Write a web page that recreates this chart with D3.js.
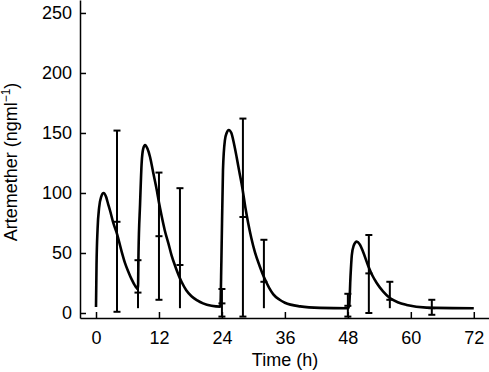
<!DOCTYPE html>
<html>
<head>
<meta charset="utf-8">
<script src="https://cdn.jsdelivr.net/npm/d3@7/dist/d3.min.js"></script>
<style>
  html, body { margin: 0; padding: 0; background: #fff; }
  svg { display: block; font-family: "Liberation Sans", Arial, sans-serif; }
</style>
</head>
<body>
<div id="chart"></div>
<script>
// fitted concentration curve (h, ng/ml)
var curveTime = [0, 0.1, 0.3, 0.6, 1.0, 1.45, 1.9, 2.3, 2.7, 3.3, 4.0, 4.9, 5.5, 6.2, 6.8, 7.4, 8.0,
    8.1, 8.4, 8.7, 9.0, 9.35, 9.8, 10.3, 10.9, 11.6, 12.0, 12.5, 13.1, 13.8, 14.4, 15.1, 16.3, 17.2, 18.2, 19.3, 20.4, 22.0, 23.7,
    23.9, 24.2, 24.57, 24.9, 25.3, 25.8, 26.3, 26.8, 27.3, 27.9, 28.5, 29.0, 29.6, 30.3, 31.2, 32.0, 33.0, 33.8, 35.0, 36.0, 38.9, 42.7, 48.0,
    48.25, 48.5, 48.75, 49.1, 49.7, 50.3, 50.9, 51.9, 52.7, 53.5, 54.7, 56.0, 57.5, 59.2, 63.0, 72.0];
var curveConc = [5, 40, 70, 88, 97, 100, 97, 91, 85, 75, 66, 51, 42, 34, 28, 23, 20,
    50, 91, 125, 137, 140, 137, 130, 117, 102, 92, 81, 69, 58, 48, 39, 26, 19, 14, 10.5, 8, 6, 5.3,
    44, 119, 144, 150, 152.5, 150, 141, 130, 118, 104, 87, 75, 62.5, 50.5, 39, 30, 21, 15.5, 11, 8.5, 5.5, 4.3, 4,
    6, 30, 48, 56, 59.5, 57, 51, 39, 31, 25, 18, 12.5, 9, 6.7, 4.5, 4];

// observed samples: mean with range bars
var sampleTime  = [4, 8, 12, 16, 24, 28, 32, 48, 52, 56, 64];
var sampleMean  = [76, 17, 64, 40, 8, 80, 26, 6, 33, 11, 4];
var sampleHigh  = [152, 44, 117, 104, 20, 162, 61, 16, 65, 26, 11];
var sampleLow   = [1, 4, 11, 4, -3, -3, 4, -3, 0, 4, -1.5];
var lowCapShown = [true, false, true, false, true, true, false, true, true, false, true];

var xTicks = [0, 12, 24, 36, 48, 60, 72];
var yTicks = [0, 50, 100, 150, 200, 250];

var width = 489, height = 372;

var svg = d3.select("#chart").append("svg")
    .attr("width", width).attr("height", height)
    .style("background-color", "#fff");

var x = d3.scaleLinear().domain([-3.05, 74.9]).range([80, 489]);
var y = d3.scaleLinear().domain([-4.17, 260.8]).range([318, 0]);

// axes, ticks point inward
var xAxis = svg.append("g")
    .attr("transform", "translate(0,318)")
    .call(d3.axisBottom(x).tickValues(xTicks).tickSize(-6).tickSizeOuter(0).tickPadding(13));
var yAxis = svg.append("g")
    .attr("transform", "translate(80,0)")
    .call(d3.axisLeft(y).tickValues(yTicks).tickSize(-6).tickSizeOuter(0).tickPadding(8));

[xAxis, yAxis].forEach(function(a) {
    a.selectAll("path, line").attr("stroke", "#000").attr("stroke-width", 1.5);
    a.selectAll("text").attr("fill", "#000").style("font-size", "18px")
        .style("font-family", "'Liberation Sans', Arial, sans-serif");
});

// range bars
var bars = svg.append("g").attr("stroke", "#000").attr("stroke-width", 2);
sampleTime.forEach(function(t, i) {
    var cx = x(t);
    bars.append("line")
        .attr("x1", cx).attr("x2", cx)
        .attr("y1", y(sampleHigh[i])).attr("y2", y(sampleLow[i]));
    var caps = [sampleHigh[i], sampleMean[i]];
    if (lowCapShown[i]) caps.push(sampleLow[i]);
    caps.forEach(function(v) {
        bars.append("line")
            .attr("x1", cx - 3.5).attr("x2", cx + 3.5)
            .attr("y1", y(v)).attr("y2", y(v));
    });
});

// fitted curve
var pts = curveTime.map(function(t, i) { return [t, curveConc[i]]; });
svg.append("path")
    .datum(pts)
    .attr("fill", "none")
    .attr("stroke", "#000")
    .attr("stroke-width", 2.6)
    .attr("stroke-linejoin", "round")
    .attr("d", d3.line()
        .x(function(d) { return x(d[0]); })
        .y(function(d) { return y(d[1]); })
        .curve(d3.curveMonotoneX));

// axis titles
svg.append("text")
    .attr("x", 285).attr("y", 366)
    .attr("text-anchor", "middle")
    .style("font-size", "18px")
    .text("Time (h)");

var yTitle = svg.append("text")
    .attr("transform", "translate(16.5,162) rotate(-90)")
    .attr("text-anchor", "middle")
    .style("font-size", "18px");
yTitle.append("tspan").text("Artemether (ngml");
yTitle.append("tspan").attr("dy", "-7").style("font-size", "12px").text("\u22121");
yTitle.append("tspan").attr("dy", "7").text(")");
</script>
</body>
</html>
